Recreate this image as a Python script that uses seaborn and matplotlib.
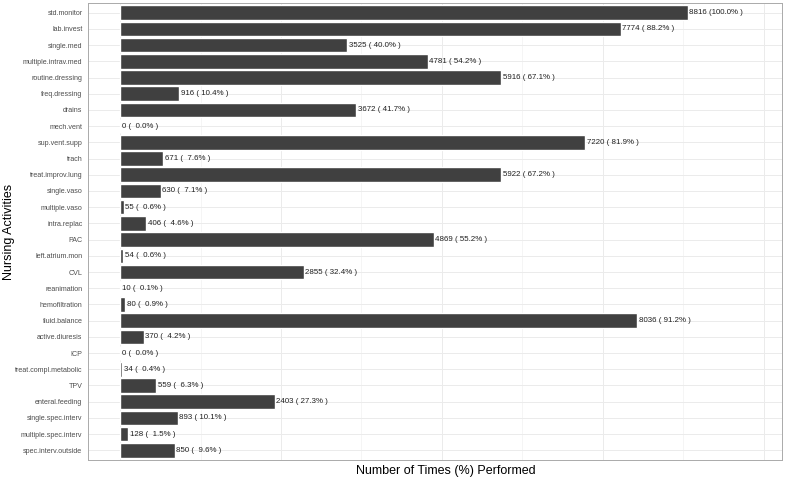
import matplotlib
matplotlib.use("Agg")
import matplotlib.pyplot as plt
import seaborn as sns
import pandas as pd

activities = ['std.monitor', 'lab.invest', 'single.med', 'multiple.intrav.med',
              'routine.dressing', 'freq.dressing', 'drains', 'mech.vent',
              'sup.vent.supp', 'trach', 'treat.improv.lung', 'single.vaso',
              'multiple.vaso', 'intra.replac', 'PAC', 'left.atrium.mon', 'CVL',
              'reanimation', 'hemofiltration', 'fluid.balance', 'active.diuresis',
              'ICP', 'treat.compl.metabolic', 'TPV', 'enteral.feeding',
              'single.spec.interv', 'multiple.spec.interv', 'spec.interv.outside']
counts = [8816, 7774, 3525, 4781, 5916, 916, 3672, 0, 7220, 671, 5922, 630,
          55, 406, 4869, 54, 2855, 10, 80, 8036, 370, 0, 34, 559, 2403, 893,
          128, 850]
percents = [100.0, 88.2, 40.0, 54.2, 67.1, 10.4, 41.7, 0.0, 81.9, 7.6, 67.2,
            7.1, 0.6, 4.6, 55.2, 0.6, 32.4, 0.1, 0.9, 91.2, 4.2, 0.0, 0.4, 6.3,
            27.3, 10.1, 1.5, 9.6]

df = pd.DataFrame({'activity': activities, 'n': counts, 'pct': percents})

sns.set_style('white')
plt.rcParams['font.family'] = ['Liberation Sans', 'DejaVu Sans']

fig = plt.figure(figsize=(8, 4.8), dpi=100)
ax = fig.add_axes([0.11, 0.0417, 0.8675, 0.952])

sns.barplot(data=df, x='n', y='activity', orient='h', color='#404040',
            saturation=1, width=0.9, ax=ax, zorder=3)

# count and percent label at the end of each bar
for i, (n, p) in enumerate(zip(counts, percents)):
    ax.text(n + 25, i, '%d (%5.1f%% )' % (n, p), va='center', ha='left',
            fontsize=5.7, color='#222222', zorder=4)

ax.set_xlim(-497, 10280)
ax.set_ylim(len(activities) - 0.4, -0.6)
ax.set_xticks([0, 2500, 5000, 7500, 10000])
ax.set_xticks([1250, 3750, 6250, 8750], minor=True)
ax.set_xticklabels([])
ax.tick_params(axis='x', which='both', length=0)
ax.tick_params(axis='y', length=2.5, width=0.6, color='#666666',
               labelsize=5.1, labelcolor='#4D4D4D', pad=1.5)
ax.grid(True, which='major', color='#EBEBEB', linewidth=0.7, zorder=0)
ax.grid(True, which='minor', axis='x', color='#F2F2F2', linewidth=0.5, zorder=0)
ax.set_axisbelow(True)
for s in ax.spines.values():
    s.set_color('#AAAAAA')
    s.set_linewidth(0.7)

ax.set_xlabel('Number of Times (%) Performed', fontsize=9, color='black')
ax.set_ylabel('Nursing Activities', fontsize=9, color='black')
ax.xaxis.set_label_coords(0.516, -0.011)
ax.yaxis.set_label_coords(-0.105, 0.5)

fig.savefig('out.png', dpi=100)
